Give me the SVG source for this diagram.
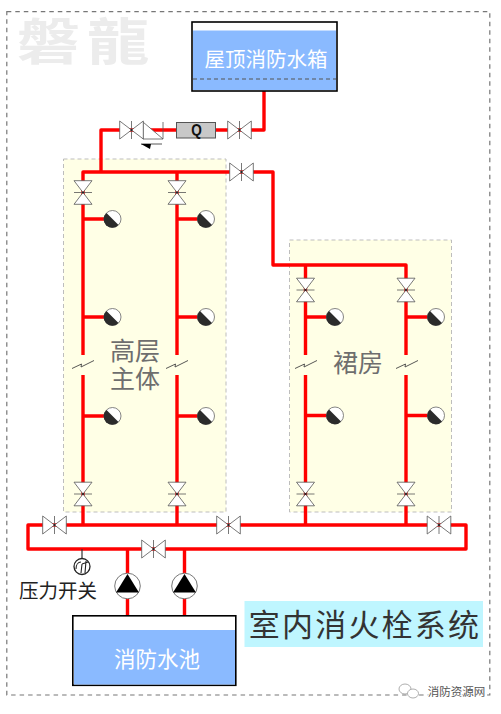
<svg xmlns="http://www.w3.org/2000/svg" xmlns:xlink="http://www.w3.org/1999/xlink" width="501" height="714" viewBox="0 0 501 714">
<style>
text{font-family:"Noto Sans CJK SC","Noto Sans",sans-serif;text-anchor:middle}
.pipe{fill:none;stroke:#ff0000;stroke-width:3.4;stroke-linejoin:round}
.zone{fill:#ffffe6;stroke:#bdbdbd;stroke-width:1;stroke-dasharray:4 3}
.tank{fill:#fff;stroke:#000;stroke-width:1.6}
.water{fill:#8abaff}
.v{fill:#fff;stroke:#555;stroke-width:.8}
.wl{fill:#fff}
.zl{fill:#6e6e6e;font-size:25px}
</style>
<defs>
<g id="vh"><path class="v" d="M-11.800,-9L0,0L-11.800,9ZM11.800,-9L0,0L11.800,9Z"/><path class="v" d="M0,-9V9"/><circle r="1" fill="#222"/></g>
<g id="vv"><path class="v" d="M-9,-11.800L0,0L9,-11.800ZM-9,11.800L0,0L9,11.800Z"/><path class="v" d="M-9,0H9"/><circle r="1" fill="#222"/></g>
<g id="hyd"><circle r="8.500" fill="#fff" stroke="#666" stroke-width=".8"/><path d="M-6,-6A8.500,8.500 0 1 0 6,6Z" fill="#2b2b2b"/></g>
<g id="brk"><path d="M-11,4.500L-1.500,0L-2,3L11,-3.500" fill="none" stroke="#444" stroke-width=".9"/></g>
<g id="pump"><circle r="12.800" fill="#fff" stroke="#777" stroke-width="1"/><path d="M0,-12L11.500,6.500H-11.500Z" fill="#000"/></g>
</defs>
<rect width="501" height="714" fill="#fff"/>
<rect x="6.800" y="11.700" width="483" height="683.300" fill="none" stroke="#777" stroke-width="1.200" stroke-dasharray="4.500 4"/>
<text id="watermark" transform="translate(87,60) scale(1.250,1)" style="font-size:50px;font-weight:700;letter-spacing:6px" fill="#ececec">磐龍</text>
<rect id="zone-high" class="zone" x="63.500" y="159" width="162.500" height="353"/>
<rect id="zone-podium" class="zone" x="289.500" y="240" width="162" height="272"/>
<g id="connectors">
<path class="pipe" d="M264,91V130H101V172M83,182V172H273V265H406V280M305.500,265V280M83,172V355M83,375V525M177,172V355M177,375V525M305.500,280V355M305.500,375V525M406,280V355M406,375V525"/>
<path class="pipe" d="M28,525H466V549H28ZM127.500,549V615M184.500,549V615"/>
<path class="pipe" d="M83,219H112M83,317H112M83,416H112M177,219H206M177,317H206M177,416H206M305.500,317H335M305.500,415.500H335M406,317H436M406,415.500H436"/>
<path d="M82,549V560" stroke="#333" stroke-width="1.200"/>
</g>
<g id="tank-roof"><rect class="tank" x="192" y="22" width="145" height="69"/><rect class="water" x="193" y="30.500" width="143" height="59.500"/><path d="M193,79H336" stroke="#555" stroke-width="1.200" stroke-dasharray="4 3"/><text class="wl" x="266" y="67" font-size="20.500">屋顶消防水箱</text></g>
<g id="valve-top-right"><use xlink:href="#vh" x="239.500" y="130"/></g>
<g id="flow-meter"><rect x="176.500" y="122.500" width="39" height="15.500" fill="#c8c8c8" stroke="#555" stroke-width="1"/><text transform="translate(196.500,136) scale(.8,1)" style="font-family:'Liberation Sans',sans-serif;font-weight:700" font-size="17" fill="#111">Q</text></g>
<g id="check-valve"><path class="v" d="M143,122L163,139H143Z"/><path class="v" d="M163,122V139"/><path d="M141,144H162" stroke="#444" stroke-width=".9"/><path d="M141,144H151L150,149Z" fill="#000"/></g>
<g id="valve-gate-top"><use xlink:href="#vh" x="131.500" y="130"/></g>
<g id="valve-main"><use xlink:href="#vh" x="241.500" y="172"/></g>
<g id="valves-high"><use xlink:href="#vv" x="83" y="192.500"/><use xlink:href="#vv" x="177" y="192.500"/><use xlink:href="#vv" x="83" y="494"/><use xlink:href="#vv" x="177" y="494"/></g>
<g id="valves-podium"><use xlink:href="#vv" x="305.500" y="290"/><use xlink:href="#vv" x="406" y="290"/><use xlink:href="#vv" x="305.500" y="494"/><use xlink:href="#vv" x="406" y="494"/></g>
<g id="hydrants"><use xlink:href="#hyd" x="112.500" y="219"/><use xlink:href="#hyd" x="112.500" y="317"/><use xlink:href="#hyd" x="112.500" y="416"/><use xlink:href="#hyd" x="206" y="219"/><use xlink:href="#hyd" x="206" y="317"/><use xlink:href="#hyd" x="206" y="416"/><use xlink:href="#hyd" x="335" y="317"/><use xlink:href="#hyd" x="335" y="415.500"/><use xlink:href="#hyd" x="436" y="317"/><use xlink:href="#hyd" x="436" y="415.500"/></g>
<g id="breaks"><use xlink:href="#brk" x="83" y="364"/><use xlink:href="#brk" x="177" y="364"/><use xlink:href="#brk" x="306" y="364"/><use xlink:href="#brk" x="407" y="364"/></g>
<g id="valves-bottom"><use xlink:href="#vh" x="54.500" y="525"/><use xlink:href="#vh" x="228.500" y="525"/><use xlink:href="#vh" x="439" y="525"/><use xlink:href="#vh" x="153.500" y="549"/></g>
<g id="pumps"><use xlink:href="#pump" x="127.500" y="586"/><use xlink:href="#pump" x="184.500" y="586"/></g>
<g id="pressure-switch"><circle cx="82" cy="566.500" r="8" fill="#fff" stroke="#222" stroke-width="1.300"/><path d="M76,569C76,565 78,562 81,562M81,573L82,564M85,573L86,561M82,564L88,562" fill="none" stroke="#222" stroke-width="1.100"/><text x="58" y="598" font-size="19.500" fill="#222">压力开关</text></g>
<g id="tank-pool"><rect class="tank" x="72.800" y="615.800" width="163" height="69.500"/><rect class="water" x="74" y="630" width="161" height="54.500"/><text class="wl" x="157" y="667" font-size="21.500">消防水池</text></g>
<text class="zl" x="135"><tspan x="135" y="360">高层</tspan><tspan x="135" y="388">主体</tspan></text>
<text class="zl" x="358" y="372">裙房</text>
<g id="title"><rect x="244.500" y="601" width="238.500" height="46" fill="#bff6ff"/><text x="365" y="636" style="font-size:31px;letter-spacing:2.200px" fill="#333">室内消火栓系统</text></g>
<g id="credit"><ellipse cx="405" cy="689" rx="6" ry="5" fill="#fff" stroke="#999" stroke-width=".8"/><ellipse cx="413" cy="693.500" rx="5.500" ry="4.500" fill="#fff" stroke="#999" stroke-width=".8"/><text x="456.500" y="696" font-size="11.500" fill="#555" stroke="#fff" stroke-width="2" paint-order="stroke">消防资源网</text></g>
</svg>
